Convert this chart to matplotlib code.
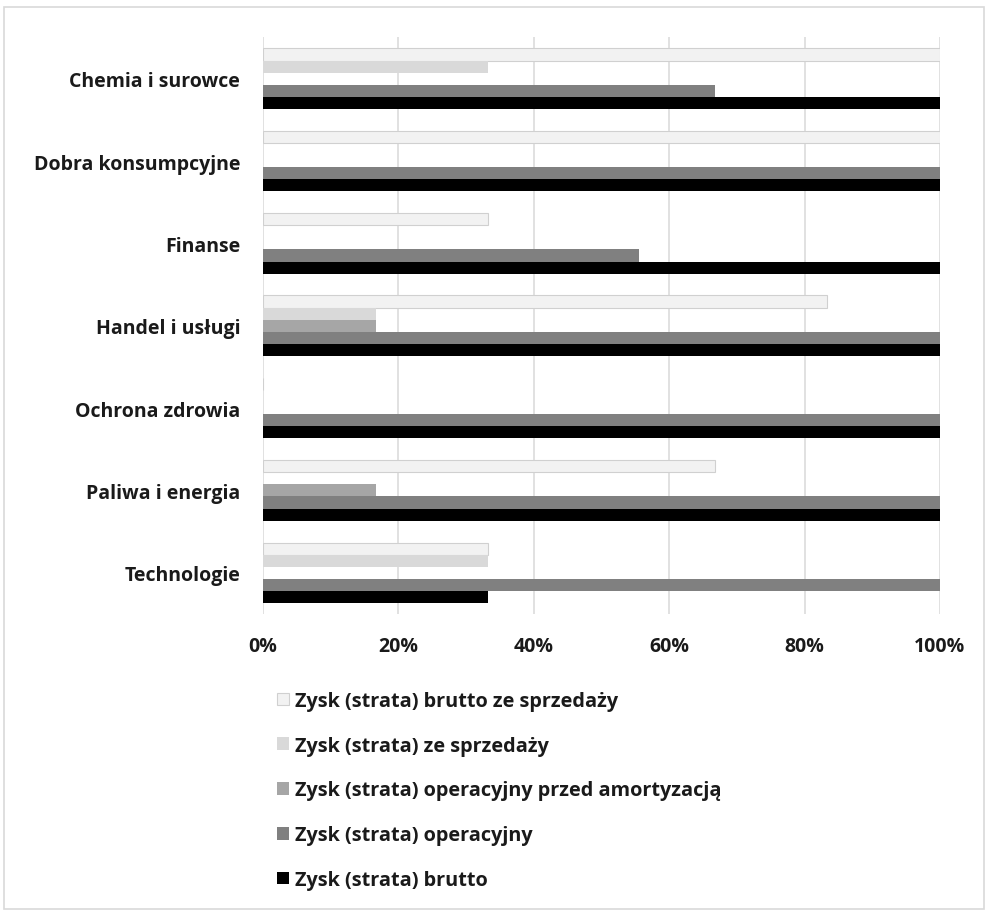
import numpy as np
import matplotlib
matplotlib.use("Agg")
import matplotlib.pyplot as plt
from matplotlib.patches import Rectangle

plt.rcParams['font.family'] = ['Open Sans', 'DejaVu Sans']
plt.rcParams['font.weight'] = 'bold'

categories = ['Chemia i surowce', 'Dobra konsumpcyjne', 'Finanse', 'Handel i usługi',
              'Ochrona zdrowia', 'Paliwa i energia', 'Technologie']
series_names = ['Zysk (strata) brutto ze sprzedaży',
                'Zysk (strata) ze sprzedaży',
                'Zysk (strata) operacyjny przed amortyzacją',
                'Zysk (strata) operacyjny',
                'Zysk (strata) brutto']
# shares of companies (%) per sector
brutto_ze_sprzedazy = [100, 100, 33.3, 83.3, 0, 66.7, 33.3]
ze_sprzedazy = [33.3, 0, 0, 16.7, 0, 0, 33.3]
operacyjny_przed_amort = [0, 0, 0, 16.7, 0, 16.7, 0]
operacyjny = [66.7, 100, 55.6, 100, 100, 100, 100]
brutto = [100, 100, 100, 100, 100, 100, 33.3]

values = [brutto_ze_sprzedazy, ze_sprzedazy, operacyjny_przed_amort, operacyjny, brutto]
colors = ['#f2f2f2', '#d9d9d9', '#a6a6a6', '#808080', '#000000']
edges = ['#d0d0d0', 'none', 'none', 'none', 'none']

fig = plt.figure(figsize=(9.88, 9.12), dpi=100)
ax = fig.add_axes([0.2662, 0.3257, 0.6852, 0.6321])

# outer frame
fig.patches.append(Rectangle((0.004, 0.002), 0.992, 0.989, transform=fig.transFigure,
                             fill=False, edgecolor='#d9d9d9', linewidth=1.2))

y = np.arange(len(categories))
h = 0.147
for i, (vals, c, ec) in enumerate(zip(values, colors, edges)):
    ax.barh(y + (i - 2) * h, np.array(vals) / 100, height=h, color=c,
            edgecolor=ec, linewidth=0.8 if ec != 'none' else 0,
            label=series_names[i], zorder=3)

ax.set_ylim(-0.5, len(categories) - 0.5)
ax.invert_yaxis()
ax.set_xlim(0, 1)
ax.set_xticks(np.linspace(0, 1, 6))
ax.set_xticklabels([f'{int(v)}%' for v in np.linspace(0, 100, 6)])
ax.set_yticks(y)
ax.set_yticklabels(categories)
ax.tick_params(axis='both', length=0, labelsize=14, colors='#1a1a1a')
ax.tick_params(axis='y', pad=16.5)
ax.tick_params(axis='x', pad=16)
ax.xaxis.grid(True, color='#d9d9d9', linewidth=1.1, zorder=0)
for s in ax.spines.values():
    s.set_visible(False)

handles, labels = ax.get_legend_handles_labels()
fig.legend(handles, labels, loc='upper left', bbox_to_anchor=(0.262, 0.261),
           frameon=False, fontsize=14.3, labelspacing=1.25,
           handlelength=0.6, handleheight=0.6, handletextpad=0.3,
           labelcolor='#1a1a1a')

fig.savefig('out.png', dpi=100, facecolor='white')
